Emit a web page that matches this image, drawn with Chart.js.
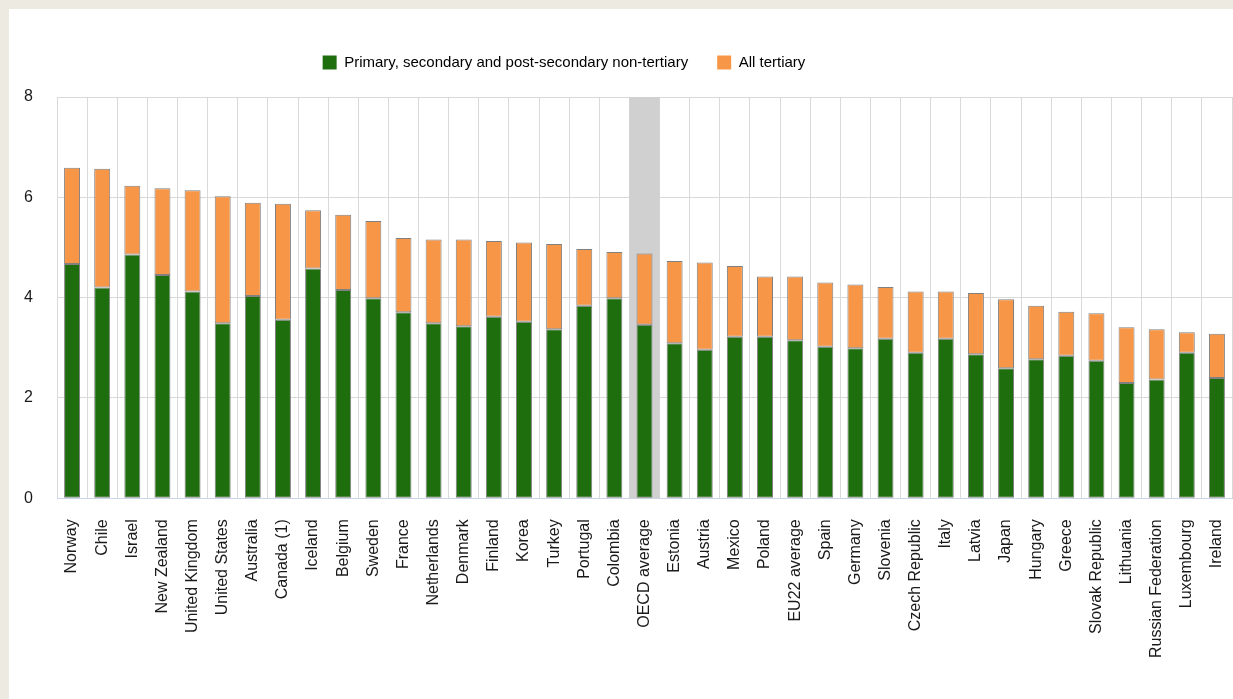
<!DOCTYPE html>
<html>
<head>
<meta charset="utf-8">
<script src="https://cdn.jsdelivr.net/npm/chart.js@4.4.1/dist/chart.umd.min.js"></script>
<style>
  html, body { margin: 0; padding: 0; background: #edebe1; overflow: hidden; }
  .card { position: absolute; left: 9px; top: 9px; width: 1224px; height: 690px; background: #fff; }
  #chart { display: block; }
</style>
</head>
<body>
<div class="card">
  <canvas id="chart" width="1224" height="690"></canvas>
</div>
<script>
const categories = [
  "Norway", "Chile", "Israel", "New Zealand", "United Kingdom", "United States",
  "Australia", "Canada (1)", "Iceland", "Belgium", "Sweden", "France",
  "Netherlands", "Denmark", "Finland", "Korea", "Turkey", "Portugal", "Colombia",
  "OECD average", "Estonia", "Austria", "Mexico", "Poland", "EU22 average",
  "Spain", "Germany", "Slovenia", "Czech Republic", "Italy", "Latvia", "Japan",
  "Hungary", "Greece", "Slovak Republic", "Lithuania", "Russian Federation",
  "Luxembourg", "Ireland"
];

// primary, secondary and post-secondary non-tertiary
const nonTertiary = [
  4.67, 4.20, 4.86, 4.45, 4.12, 3.49,
  4.03, 3.56, 4.58, 4.15, 3.99, 3.71,
  3.49, 3.43, 3.62, 3.52, 3.37, 3.84, 3.99,
  3.46, 3.09, 2.96, 3.22, 3.22, 3.15,
  3.02, 2.99, 3.18, 2.90, 3.18, 2.87, 2.59,
  2.77, 2.84, 2.74, 2.30, 2.37,
  2.90, 2.40
];

// all tertiary (stacked on top)
const tertiary = [
  1.92, 2.37, 1.37, 1.73, 2.02, 2.53,
  1.86, 2.31, 1.16, 1.50, 1.54, 1.48,
  1.67, 1.73, 1.51, 1.58, 1.70, 1.13, 0.92,
  1.42, 1.64, 1.74, 1.41, 1.20, 1.27,
  1.28, 1.27, 1.03, 1.22, 0.94, 1.22, 1.38,
  1.07, 0.88, 0.95, 1.11, 1.00,
  0.41, 0.88
];

const yTicks = [0, 2, 4, 6, 8];
const highlighted = "OECD average";

const LEGEND_DX = -64;
const LEGEND_DY = -17;

Chart.defaults.font.family = "'Liberation Sans', Arial, sans-serif";
Chart.defaults.font.size = 16;
Chart.defaults.color = "#1a1a1a";

/* grey band behind the OECD average column */
const highlightBand = {
  id: "highlightBand",
  beforeDatasetsDraw(chart) {
    const { ctx, chartArea, scales: { x } } = chart;
    const idx = categories.indexOf(highlighted);
    if (idx < 0) return;
    const w = x.getPixelForValue(1) - x.getPixelForValue(0);
    const cx = x.getPixelForValue(idx);
    ctx.save();
    ctx.fillStyle = "#d0d0d0";
    ctx.fillRect(cx - w / 2, chartArea.top, w, chartArea.bottom - chartArea.top);
    ctx.restore();
  }
};

/* legend sits off-centre in the original */
const legendNudge = {
  id: "legendNudge",
  afterLayout(chart) {
    const lg = chart.legend;
    lg.left += LEGEND_DX; lg.right += LEGEND_DX;
    lg.top += LEGEND_DY; lg.bottom += LEGEND_DY;
  }
};

new Chart(document.getElementById("chart"), {
  type: "bar",
  data: {
    labels: categories,
    datasets: [
      {
        label: "Primary, secondary and post-secondary non-tertiary",
        data: nonTertiary,
        backgroundColor: "#1e6e0e",
        borderColor: "#808080",
        borderWidth: 1,
        borderSkipped: false,
        barPercentage: 0.53,
        categoryPercentage: 1
      },
      {
        label: "All tertiary",
        data: tertiary,
        backgroundColor: "#f79646",
        borderColor: "#808080",
        borderWidth: 1,
        borderSkipped: false,
        barPercentage: 0.53,
        categoryPercentage: 1
      }
    ]
  },
  options: {
    responsive: false,
    animation: false,
    layout: { padding: { top: 34, left: 15, right: 1, bottom: 20 } },
    plugins: {
      legend: {
        position: "top",
        labels: {
          boxWidth: 14,
          boxHeight: 14,
          padding: 29,
          font: { size: 15 },
          generateLabels(chart) {
            return chart.data.datasets.map((ds, i) => ({
              text: ds.label,
              fillStyle: ds.backgroundColor,
              strokeStyle: ds.backgroundColor,
              lineWidth: 0,
              datasetIndex: i,
              hidden: false
            }));
          }
        }
      },
      tooltip: { enabled: false }
    },
    scales: {
      x: {
        stacked: true,
        offset: true,
        grid: { offset: true, color: "#d9d9d9", drawTicks: false },
        border: { color: "#cbd5e8" },
        ticks: {
          autoSkip: false,
          minRotation: 90,
          maxRotation: 90,
          padding: 21
        },
        afterFit(scale) {
          // no side padding for the rotated labels: plot runs edge to edge
          scale.paddingLeft = 0;
          scale.paddingRight = 0;
        }
      },
      y: {
        stacked: true,
        min: 0,
        max: 8,
        afterBuildTicks(scale) {
          scale.ticks = yTicks.map(v => ({ value: v }));
        },
        afterFit(scale) {
          scale.width = 33;
        },
        grid: { color: "#d9d9d9", drawTicks: false },
        border: { display: false },
        ticks: { padding: 24 }
      }
    }
  },
  plugins: [highlightBand, legendNudge]
});
</script>
</body>
</html>
